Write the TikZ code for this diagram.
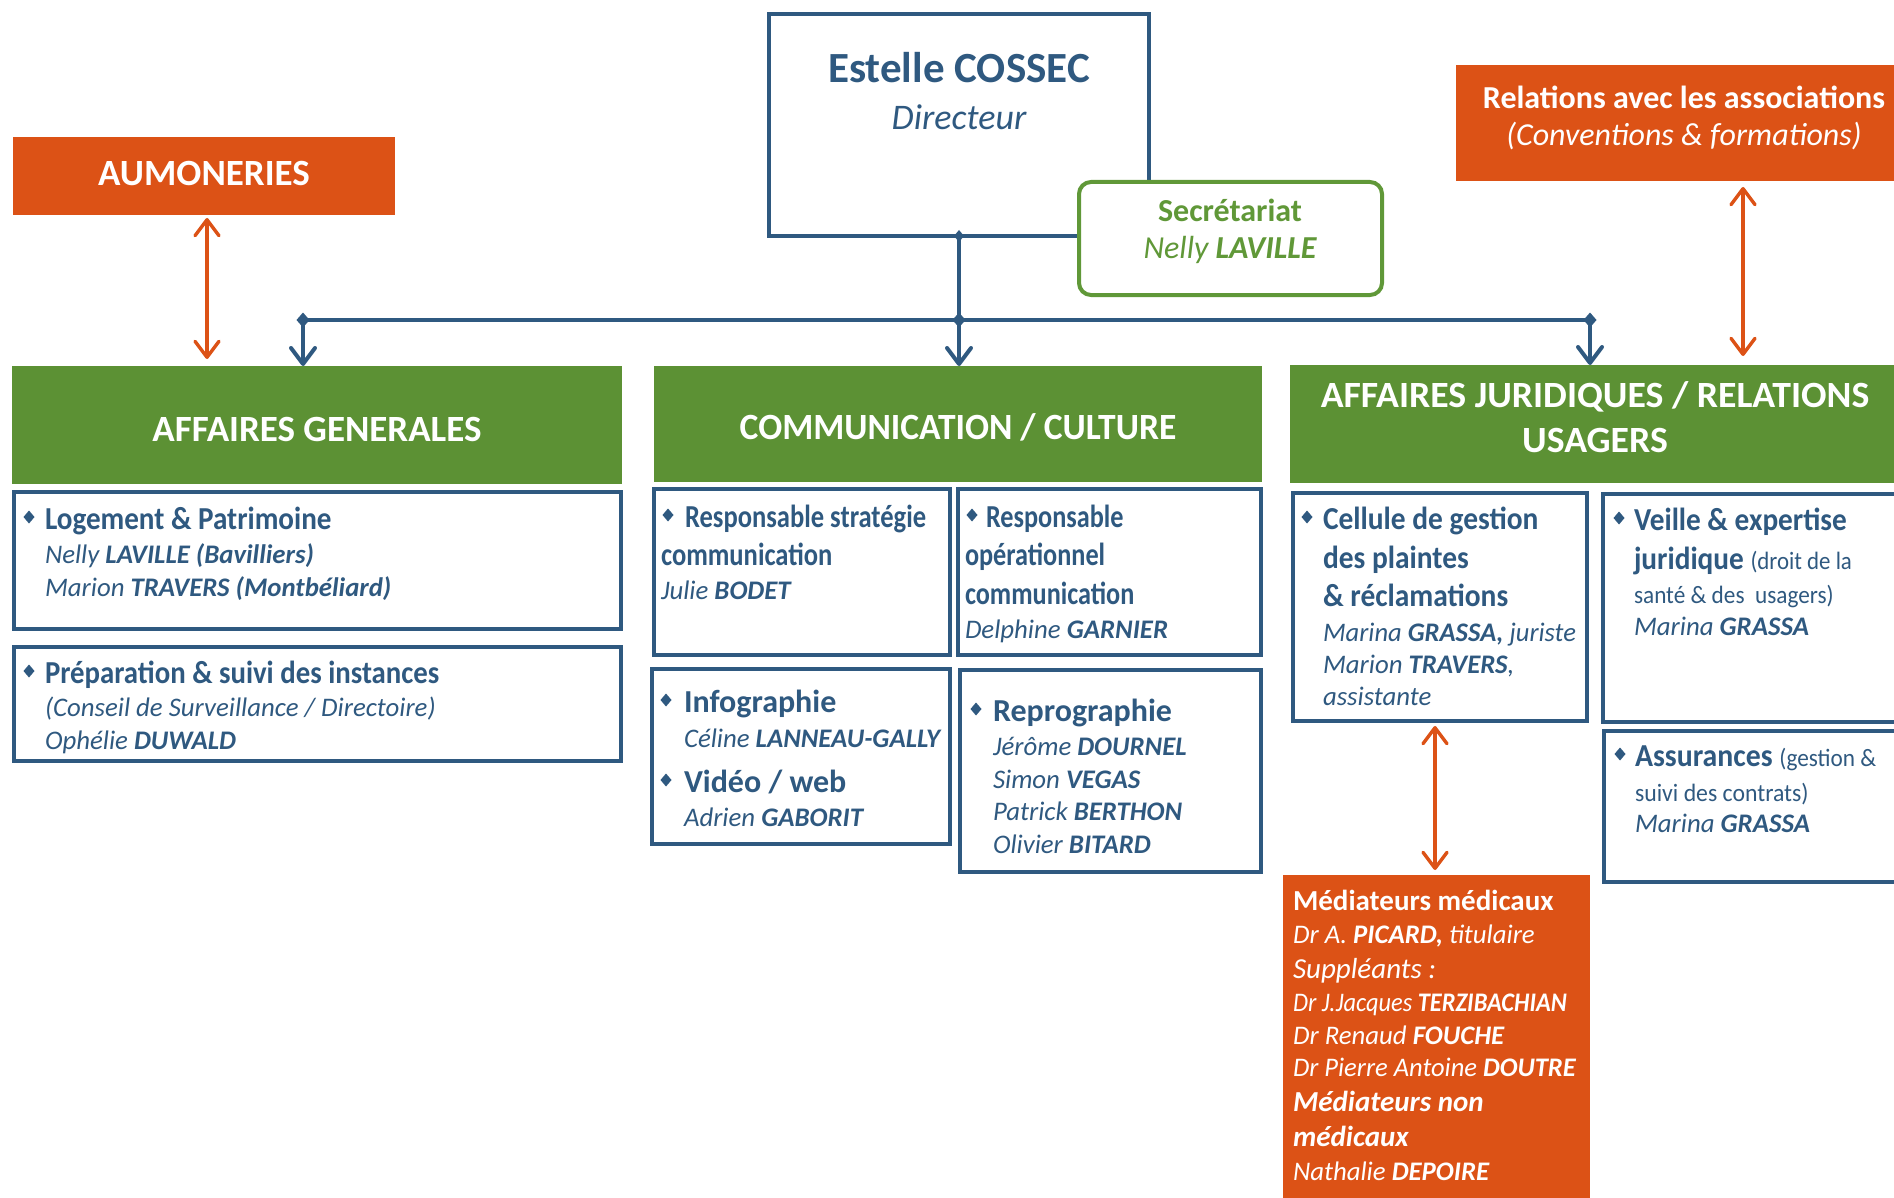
\documentclass[tikz,border=0pt]{standalone}
\usepackage{fontspec}
\setmainfont{Carlito}
\usepackage{graphicx}
\usetikzlibrary{arrows.meta,shapes.geometric,fit}
\definecolor{tblue}{RGB}{47,89,128}
\definecolor{tgreen}{RGB}{92,145,52}
\definecolor{sgreen}{RGB}{96,152,56}
\definecolor{torange}{RGB}{220,82,22}
\newcommand\fs[1]{\fontsize{#1}{#1}\selectfont}
\newcommand\cnd[2]{\scalebox{#1}[1]{#2}}
\tikzset{
  every node/.style={inner sep=0pt, outer sep=0pt},
  bbox/.style={draw=tblue, line width=2pt, fill=white},
  gbox/.style={fill=tgreen},
  obox/.style={fill=torange},
  bline/.style={draw=tblue, line width=2pt},
  barrow/.style={draw=tblue, line width=2pt, -{Straight Barb[length=8pt,width=12pt,round]}},
  oarrow/.style={draw=torange, line width=1.7pt, {Straight Barb[length=8pt,width=12pt,round]}-{Straight Barb[length=8pt,width=12pt,round]}},
  dmd/.style={diamond, fill=tblue, minimum width=6.5pt, minimum height=7.5pt},
  bul/.style={diamond, fill=tblue, minimum width=5.5pt, minimum height=6.5pt},
  hdtxt/.style={anchor=base, text=white, font=\fs{18.5}\bfseries},
  ttltxt/.style={anchor=base west, text=tblue, font=\fs{16}\bfseries},
  nmtxt/.style={anchor=base west, text=tblue, font=\fs{13.4}\itshape},
  rgtxt/.style={anchor=base west, text=tblue, font=\fs{12.5}},
  wnmtxt/.style={anchor=base west, text=white, font=\fs{13.4}\itshape},
  wbigtxt/.style={anchor=base west, text=white, font=\fs{14.5}\itshape},
}
\begin{document}
\begin{tikzpicture}[x=0.5pt,y=-0.5pt]
\useasboundingbox (0,0) rectangle (1894,1198);
\clip (0,0) rectangle (1894,1198);

% Director
\node[bbox, fit={(769,14) (1149,236)}] (dir) {};
\node[anchor=base, text=tblue, font=\fs{21.5}\bfseries] (dirname) at (959,83) {Estelle COSSEC};
\node[anchor=base, text=tblue, font=\fs{18}\itshape] (dirrole) at (959,130) {Directeur};

% Secretariat
\node[draw=sgreen, line width=2pt, rounded corners=6pt, fill=white, fit={(1079,182) (1382,295)}] (sec) {};
\node[anchor=base, text=sgreen, font=\fs{16}\bfseries] (sec1) at (1230,221) {Secrétariat};
\node[anchor=base, text=sgreen, font=\fs{16}\itshape] (sec2) at (1230,258) {Nelly \textbf{LAVILLE}};

% Aumoneries
\node[obox, fit={(13,137) (395,215)}] (aum) {};
\node[hdtxt] (aumt) at (204,186) {AUMONERIES};

% Relations
\node[obox, fit={(1456,65) (1920,181)}] (rel) {};
\node[anchor=base, text=white, font=\fs{16}\bfseries] (rel1) at (1684,109) {Relations avec les associations};
\node[anchor=base, text=white, font=\fs{16}\itshape] (rel2) at (1684,146) {(Conventions \& formations)};

% Green headers
\node[gbox, fit={(12,366) (622,484)}] (ag) {};
\node[hdtxt] (agt) at (317,441) {AFFAIRES GENERALES};
\node[gbox, fit={(654,366) (1262,482)}] (cc) {};
\node[hdtxt] (cct) at (958,439) {\cnd{0.96}{COMMUNICATION / CULTURE}};
\node[gbox, fit={(1290,365) (1920,483)}] (aj) {};
\node[hdtxt] (ajt1) at (1595,407) {\cnd{1.02}{AFFAIRES JURIDIQUES / RELATIONS}};
\node[hdtxt] (ajt2) at (1595,452) {\cnd{1.02}{USAGERS}};

% Connectors
\coordinate (jL) at (303,320);
\coordinate (jM) at (959,320);
\coordinate (jR) at (1590,320);
\draw[bline] (dir.south) -- (jM);
\draw[bline] (jL) -- (jR);
\draw[barrow] (jL) -- (jL |- ag.north);
\draw[barrow] (jM) -- (jM |- cc.north);
\draw[barrow] (jR) -- (jR |- aj.north);
\node[dmd, minimum width=5pt, minimum height=6pt] (dT) at (dir.south) {};
\node[dmd] (dL) at (jL) {};
\node[dmd] (dM) at (jM) {};
\node[dmd] (dR) at (jR) {};

\coordinate (la) at (207,0);
\coordinate (ra) at (1743,0);
\coordinate (ma) at (1435,0);
\draw[oarrow, shorten <=1.5pt, shorten >=3.5pt] (aum.south -| la) -- (ag.north -| la);
\draw[oarrow, shorten <=3pt, shorten >=4.5pt] (rel.south -| ra) -- (aj.north -| ra);

% Affaires generales
\node[bbox, fit={(14,492) (621,629)}] (log) {};
\node[bul] (b1) at (29,517) {};
\node[ttltxt] (log1) at (45,529) {\cnd{0.91}{Logement \& Patrimoine}};
\node[nmtxt] (log2) at (45,563) {Nelly \textbf{LAVILLE (Bavilliers)}};
\node[nmtxt] (log3) at (45,596) {Marion \textbf{TRAVERS (Montbéliard)}};

\node[bbox, fit={(14,647) (621,761)}] (prep) {};
\node[bul] (b2) at (29,671) {};
\node[ttltxt] (prep1) at (45,683) {\cnd{0.9}{Préparation \& suivi des instances}};
\node[nmtxt] (prep2) at (45,716) {(Conseil de Surveillance / Directoire)};
\node[nmtxt] (prep3) at (45,749) {Ophélie \textbf{DUWALD}};

% Communication
\node[bbox, fit={(654,489) (950,655)}] (rs) {};
\node[bul] (b3) at (668,515) {};
\node[ttltxt] (rs1) at (685,527) {\cnd{0.83}{Responsable stratégie}};
\node[ttltxt] (rs2) at (661,565) {\cnd{0.83}{communication}};
\node[nmtxt] (rs3) at (661,599) {Julie \textbf{BODET}};

\node[bbox, fit={(958,489) (1261,655)}] (ro) {};
\node[bul] (b4) at (972,515) {};
\node[ttltxt] (ro1) at (986,527) {\cnd{0.82}{Responsable}};
\node[ttltxt] (ro2) at (965,565) {\cnd{0.82}{opérationnel}};
\node[ttltxt] (ro3) at (965,604) {\cnd{0.82}{communication}};
\node[nmtxt] (ro4) at (965,638) {Delphine \textbf{GARNIER}};

\node[bbox, fit={(652,669) (950,844)}] (info) {};
\node[bul] (b5) at (666,700) {};
\node[ttltxt] (info1) at (684,712) {Infographie};
\node[nmtxt] (info2) at (684,747) {Céline \textbf{LANNEAU-GALLY}};
\node[bul] (b6) at (666,780) {};
\node[ttltxt] (info3) at (684,792) {Vidéo / web};
\node[nmtxt] (info4) at (684,826) {Adrien \textbf{GABORIT}};

\node[bbox, fit={(960,670) (1261,872)}] (rep) {};
\node[bul] (b7) at (976,709) {};
\node[ttltxt] (rep1) at (993,721) {Reprographie};
\node[nmtxt] (rep2) at (993,755) {Jérôme \textbf{DOURNEL}};
\node[nmtxt] (rep3) at (993,788) {Simon \textbf{VEGAS}};
\node[nmtxt] (rep4) at (993,820) {Patrick \textbf{BERTHON}};
\node[nmtxt] (rep5) at (993,853) {Olivier \textbf{BITARD}};

% Juridique
\node[bbox, fit={(1293,493) (1587,721)}] (cel) {};
\node[bul] (b8) at (1307,517) {};
\node[ttltxt] (cel1) at (1323,529) {\cnd{0.92}{Cellule de gestion}};
\node[ttltxt] (cel2) at (1323,568) {\cnd{0.92}{des plaintes}};
\node[ttltxt] (cel3) at (1323,606) {\cnd{0.92}{\& réclamations}};
\node[nmtxt] (cel4) at (1323,641) {\cnd{0.99}{Marina \textbf{GRASSA,} juriste}};
\node[nmtxt] (cel5) at (1323,673) {Marion \textbf{TRAVERS},};
\node[nmtxt] (cel6) at (1323,705) {assistante};

\node[bbox, fit={(1603,494) (1920,722)}] (vei) {};
\node[bul] (b9) at (1619,518) {};
\node[ttltxt] (vei1) at (1634,530) {\cnd{0.915}{Veille \& expertise}};
\node[ttltxt] (vei2) at (1634,569) {\cnd{0.915}{juridique {\mdseries\fs{12.5}(droit de la}}};
\node[rgtxt] (vei3) at (1634,603) {\cnd{0.93}{santé \& des~ usagers)}};
\node[nmtxt] (vei4) at (1634,635) {Marina \textbf{GRASSA}};

\node[bbox, fit={(1604,731) (1920,882)}] (ass) {};
\node[bul] (b10) at (1620,754) {};
\node[ttltxt] (ass1) at (1635,766) {\cnd{0.93}{Assurances {\mdseries\fs{12.5}(gestion \&}}};
\node[rgtxt] (ass2) at (1635,801) {\cnd{0.95}{suivi des contrats)}};
\node[nmtxt] (ass3) at (1635,832) {Marina \textbf{GRASSA}};

% Mediateurs
\node[obox, fit={(1283,875) (1590,1220)}] (med) {};
\draw[oarrow, shorten <=2.5pt, shorten >=2.5pt] (cel.south -| ma) -- (med.north -| ma);
\node[anchor=base west, text=white, font=\fs{14.5}\bfseries] (med1) at (1293,910) {Médiateurs médicaux};
\node[wnmtxt] (med2) at (1293,943) {Dr A. \textbf{PICARD,} titulaire};
\node[wbigtxt] (med3) at (1293,978) {Suppléants :};
\node[wnmtxt] (med4) at (1293,1011) {\cnd{0.91}{Dr J.Jacques \textbf{TERZIBACHIAN}}};
\node[wnmtxt] (med5) at (1293,1044) {Dr Renaud \textbf{FOUCHE}};
\node[wnmtxt] (med6) at (1293,1076) {\cnd{0.99}{Dr Pierre Antoine \textbf{DOUTRE}}};
\node[wbigtxt, font=\fs{14.5}\bfseries\itshape] (med7) at (1293,1111) {Médiateurs non};
\node[wbigtxt, font=\fs{14.5}\bfseries\itshape] (med8) at (1293,1146) {médicaux};
\node[wnmtxt] (med9) at (1293,1180) {Nathalie \textbf{DEPOIRE}};
\end{tikzpicture}
\end{document}
